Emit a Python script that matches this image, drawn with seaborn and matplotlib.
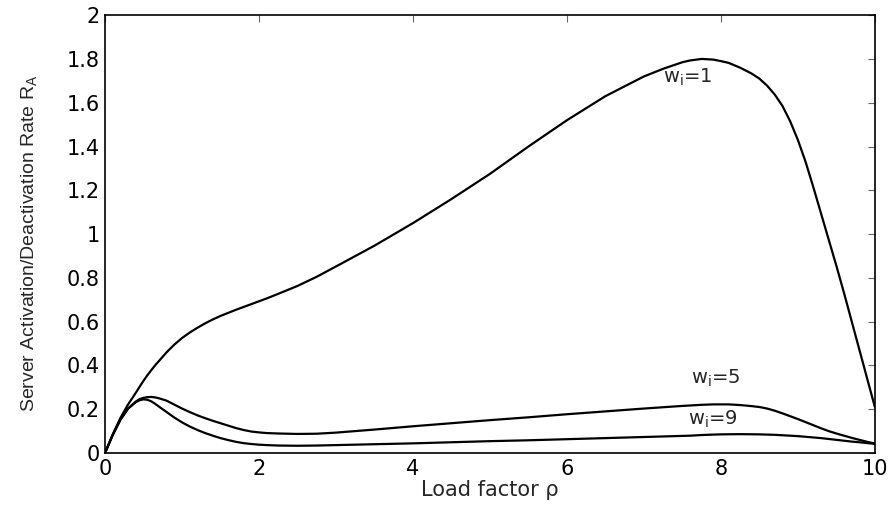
import numpy as np
import pandas as pd
import matplotlib
matplotlib.use("Agg")
import matplotlib.pyplot as plt
import seaborn as sns

# values
rho = [0, 0.1, 0.2, 0.3, 0.4, 0.45, 0.5, 0.55, 0.6, 0.65, 0.7, 0.8, 0.9, 1.0,
       1.1, 1.2, 1.3, 1.4, 1.5, 1.6, 1.7, 1.8, 1.9, 2.0, 2.1, 2.25, 2.5, 2.75,
       3.0, 3.5, 4.0, 4.5, 5.0, 5.5, 6.0, 6.5, 7.0, 7.25, 7.5, 7.6, 7.75, 7.9,
       8.0, 8.1, 8.25, 8.4, 8.5, 8.6, 8.7, 8.8, 8.9, 9.0, 9.1, 9.2, 9.3, 9.4,
       9.5, 9.6, 9.7, 9.8, 9.9, 10.0]

rate_w1 = [0, 0.085, 0.16, 0.222, 0.275, 0.303, 0.33, 0.355, 0.378, 0.4, 0.42,
           0.46, 0.495, 0.525, 0.55, 0.572, 0.592, 0.61, 0.626, 0.64, 0.654,
           0.667, 0.68, 0.693, 0.706, 0.727, 0.763, 0.805, 0.852, 0.947, 1.05,
           1.16, 1.275, 1.40, 1.52, 1.63, 1.72, 1.755, 1.785, 1.793, 1.80, 1.797,
           1.79, 1.782, 1.76, 1.733, 1.71, 1.678, 1.637, 1.585, 1.515, 1.43,
           1.33, 1.215, 1.095, 0.975, 0.855, 0.73, 0.60, 0.47, 0.34, 0.21]

rate_w5 = [0, 0.082, 0.152, 0.203, 0.235, 0.246, 0.252, 0.255, 0.256, 0.254,
           0.25, 0.239, 0.221, 0.203, 0.187, 0.172, 0.159, 0.147, 0.136, 0.125,
           0.114, 0.105, 0.098, 0.094, 0.091, 0.089, 0.087, 0.088, 0.093, 0.107,
           0.122, 0.136, 0.15, 0.163, 0.177, 0.19, 0.203, 0.209, 0.215, 0.217,
           0.22, 0.222, 0.222, 0.222, 0.219, 0.214, 0.21, 0.203, 0.193, 0.181,
           0.168, 0.155, 0.141, 0.127, 0.113, 0.1, 0.089, 0.079, 0.069, 0.06,
           0.051, 0.043]

rate_w9 = [0, 0.082, 0.152, 0.203, 0.232, 0.241, 0.245, 0.243, 0.236, 0.225,
           0.212, 0.187, 0.162, 0.14, 0.121, 0.105, 0.091, 0.079, 0.068, 0.059,
           0.051, 0.045, 0.041, 0.038, 0.036, 0.034, 0.033, 0.034, 0.036, 0.04,
           0.044, 0.049, 0.054, 0.058, 0.063, 0.068, 0.073, 0.0755, 0.078, 0.079,
           0.082, 0.084, 0.085, 0.0855, 0.086, 0.0855, 0.085, 0.084, 0.083,
           0.081, 0.079, 0.077, 0.074, 0.071, 0.068, 0.064, 0.06, 0.056, 0.052,
           0.049, 0.045, 0.042]

curve_labels = ["1", "5", "9"]
label_x = [7.57, 7.94, 7.90]
label_y = [1.69, 0.315, 0.128]

x_ticks = [0, 2, 4, 6, 8, 10]
y_ticks = [0, 0.2, 0.4, 0.6, 0.8, 1, 1.2, 1.4, 1.6, 1.8, 2]

sns.set_style("white")
plt.rcParams['font.family'] = ['DejaVu Sans']

df = pd.DataFrame({
    "rho": rho * 3,
    "rate": rate_w1 + rate_w5 + rate_w9,
    "w": ["1"] * len(rho) + ["5"] * len(rho) + ["9"] * len(rho),
})

fig = plt.figure(figsize=(8.9, 5.05), dpi=100)
ax = fig.add_axes([0.118, 0.103, 0.865, 0.867])

sns.lineplot(data=df, x="rho", y="rate", units="w", estimator=None,
             color="black", linewidth=1.6, ax=ax, legend=False)

for lab, lx, ly in zip(curve_labels, label_x, label_y):
    ax.text(lx, ly, "w$_\\mathregular{i}$=" + lab, ha="center", va="baseline",
            fontsize=14)

ax.set_xlim(0, 10)
ax.set_ylim(0, 2)
ax.set_xticks(x_ticks)
ax.set_yticks(y_ticks)
ax.set_xticklabels([str(t) for t in x_ticks])
ax.set_yticklabels([f"{t:g}" for t in y_ticks])
ax.tick_params(direction="in", length=5, width=0.8, top=True, right=True,
               labelsize=15, colors="#666666", labelcolor="black", pad=4)
for s in ax.spines.values():
    s.set_visible(True)
    s.set_color("black")
    s.set_linewidth(1.2)

ax.set_xlabel("Load factor \u03c1", fontsize=15, labelpad=1)
ax.set_ylabel("Server Activation/Deactivation Rate R$_\\mathregular{A}$",
              fontsize=14, family=["Liberation Sans"])
ax.yaxis.set_label_coords(-0.085, 0.48)

fig.savefig("out.png", dpi=100)
